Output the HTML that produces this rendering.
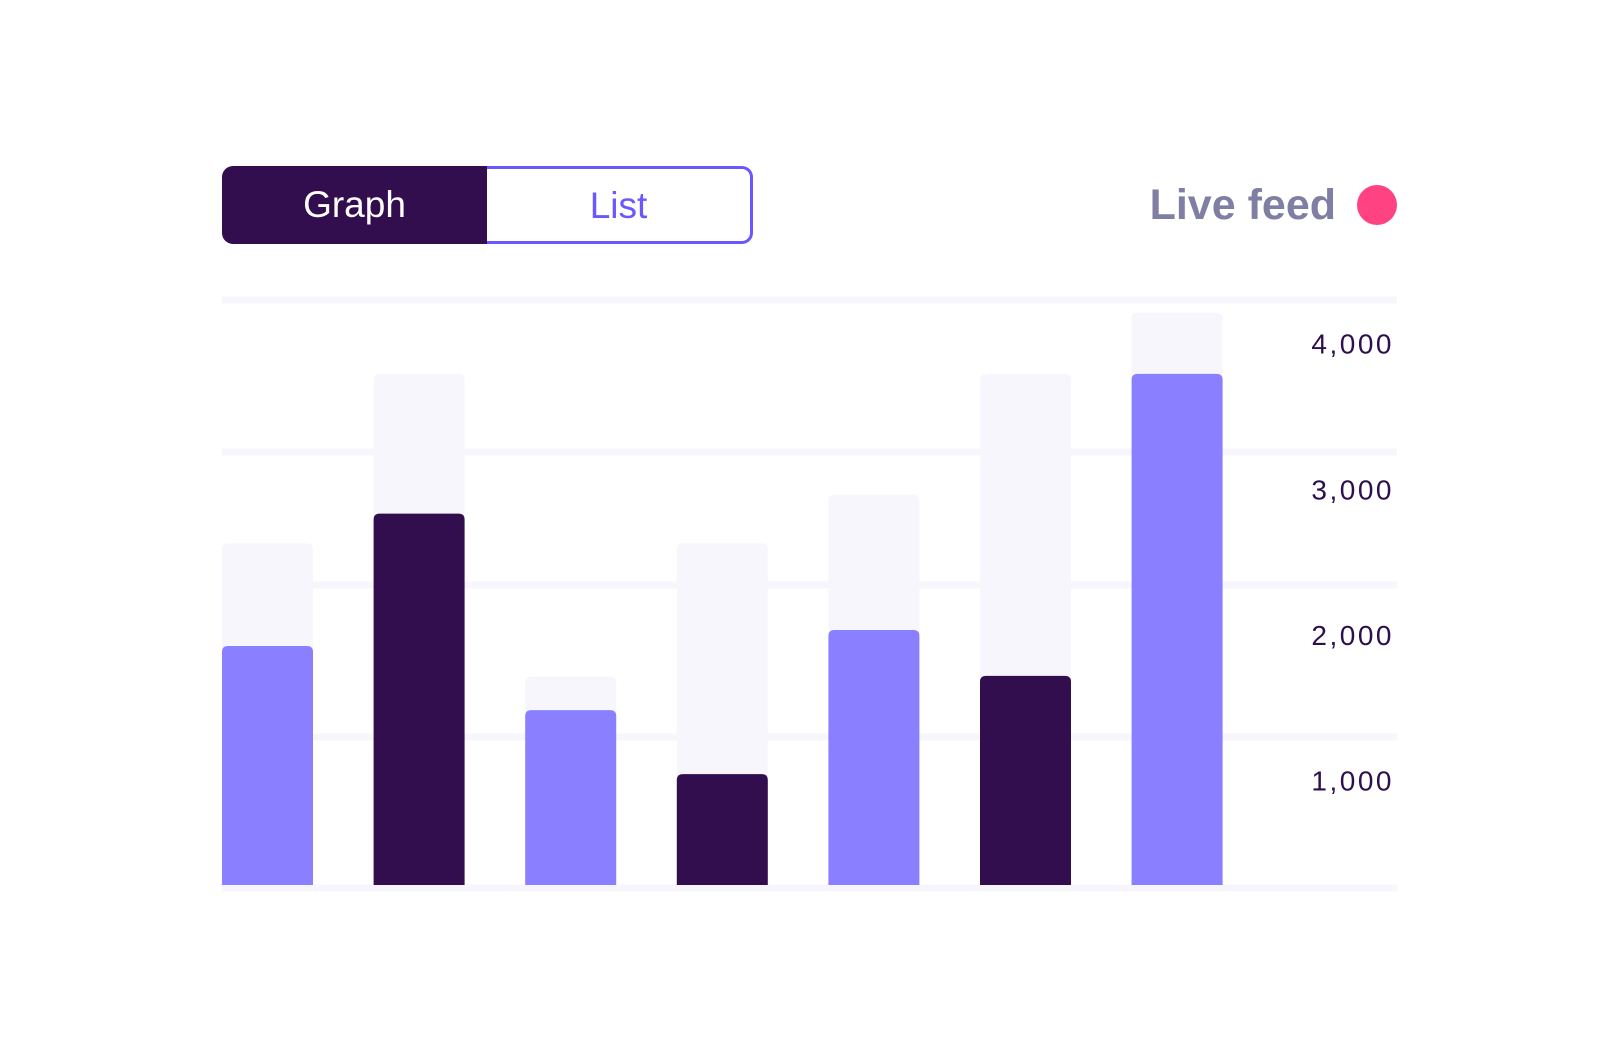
<!DOCTYPE html>
<html><head><meta charset="utf-8"><style>
html,body{margin:0;padding:0;background:#fff;}
body{width:1620px;height:1057px;position:relative;overflow:hidden;font-family:"Liberation Sans",sans-serif;}
.abs{position:absolute;}
</style></head><body>
<div class="abs" style="left:222px;top:166px;width:534px;height:78px;">
  <div class="abs" style="left:0;top:0;width:265px;height:78px;background:#320e4f;border-radius:11px 0 0 11px;color:#fff;font-size:37px;line-height:78px;text-align:center;">Graph</div>
  <div class="abs" style="left:265px;top:0;width:263px;height:72px;border:3px solid #6b57ff;border-left:none;border-radius:0 11px 11px 0;color:#6b57ff;font-size:37px;line-height:74px;text-align:center;">List</div>
</div>
<div class="abs" style="left:1100px;top:179px;width:236px;text-align:right;font-size:43px;font-weight:bold;color:#7f7ea3;line-height:52px;">Live feed</div>
<div class="abs" style="left:1357px;top:185px;width:40px;height:40px;border-radius:50%;background:#ff4281;"></div>
<svg class="abs" style="left:0;top:0" width="1620" height="1057" id="chart"></svg>
<script>
const categories = ["A","B","C","D","E","F","G"];
const values = [1930,2840,1490,1050,2040,1725,3800];
const capacity = [2635,3800,1720,2635,2970,3800,4220];
const tickValues = [4000,3000,2000,1000];
const tickLabels = ["4,000","3,000","2,000","1,000"];
const gridY = [300,452,585,737,888];
const barColors = ["#8a7fff","#320e4f"];
const NS="http://www.w3.org/2000/svg";
const svg=document.getElementById('chart');
const left=222, right=1397, bottom=885, step=151.6, bw=91;
function y(v){return 927 - v*0.14557;}
function x(i){return left + i*step;}
function mk(t,a){const e=document.createElementNS(NS,t);for(const k in a)e.setAttribute(k,a[k]);svg.appendChild(e);return e;}
gridY.forEach(g=>{const r=mk('rect',{x:left,y:g-3.5,width:right-left,height:7,fill:'#f7f6fd'});

});
function bar(xx,top,w,fill){return mk('path',{d:`M${xx},${bottom}V${top+6}Q${xx},${top} ${xx+6},${top}H${xx+w-6}Q${xx+w},${top} ${xx+w},${top+6}V${bottom}Z`,fill:fill});}
categories.forEach((c,i)=>{
  const b=bar(x(i),y(capacity[i]),bw,'#f7f6fd');
  
  
  const m=bar(x(i),y(values[i]),bw,barColors[i%2]);
  
  
});
tickValues.forEach((v,i)=>{
  const t=mk('text',{x:right-3,y:y(v)+9,'text-anchor':'end','font-size':28,'letter-spacing':2.5,fill:'#2d0f4d','font-family':'Liberation Sans, sans-serif'});
  t.textContent=tickLabels[i];
  
  
});
</script>
</body></html>
